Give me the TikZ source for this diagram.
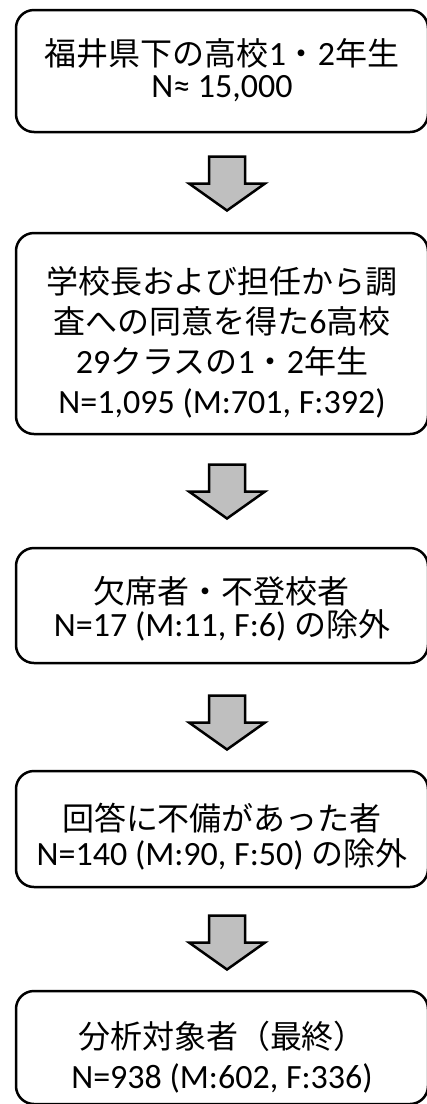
\documentclass[tikz,border=0pt]{standalone}
\usepackage{fontspec}
\usetikzlibrary{calc}
\setmainfont{Carlito}
\newfontfamily\cjkfont{Noto Sans CJK JP}
\newcommand\ja[1]{{\cjkfont\fontsize{32}{34}\selectfont #1}}
\definecolor{arrowgray}{HTML}{BFBFBF}
\begin{document}
\begin{tikzpicture}[x=1pt,y=-1pt,
  box/.style={draw, line width=2.5pt, rounded corners=18pt, minimum width=412pt,
    align=center, inner sep=0pt, font=\fontsize{34}{34}\selectfont},
  arrowstyle/.style={draw, line width=2.5pt, fill=arrowgray, line join=miter},
  pics/downarrow/.style={code={
    \draw[arrowstyle] (-18,-27) -- (18,-27) -- (18,0) -- (38,0) -- (0,27)
      -- (-38,0) -- (-18,0) -- cycle;}}]
\useasboundingbox (0,0) rectangle (427,1104);
\clip (0,0) rectangle (427,1104);
\node[box, minimum height=122pt, text height=52pt, text depth=0pt] (b1) at (222,71)
  {\ja{福井県下の高校}1\ja{・}2\ja{年生}\\[-2pt] N≈ 15,000};
\node[box, minimum height=201pt, text height=159pt, text depth=0pt] (b2) at (222,333.5)
  {\ja{学校長および担任から調}\\[6pt]\ja{査への同意を得た}6\ja{高校}\\[6pt]
   29\ja{クラスの}1\ja{・}2\ja{年生}\\[6pt] N=1,095 (M:701, F:392)};
\node[box, minimum height=115pt, text height=61pt, text depth=0pt] (b3) at (222,605.5)
  {\ja{欠席者・不登校者}\\[-1pt] N=17 (M:11, F:6) \ja{の除外}};
\node[box, minimum height=116pt, text height=72pt, text depth=0pt] (b4) at (222,829)
  {\ja{回答に不備があった者}\\[1pt] N=140 (M:90, F:50) \ja{の除外}};
\node[box, minimum height=113pt, text height=81pt, text depth=0pt] (b5) at (222,1047.5)
  {\ja{分析対象者（最終）}\\[6pt] N=938 (M:602, F:336)};
\pic (a1) at ($(b1.south)!0.5!(b2.north)+(5,1)$) {downarrow};
\pic (a2) at ($(b2.south)!0.5!(b3.north)+(5,0.5)$) {downarrow};
\pic (a3) at ($(b3.south)!0.5!(b4.north)+(5,5.5)$) {downarrow};
\pic (a4) at ($(b4.south)!0.5!(b5.north)+(5,3.5)$) {downarrow};
\end{tikzpicture}
\end{document}
